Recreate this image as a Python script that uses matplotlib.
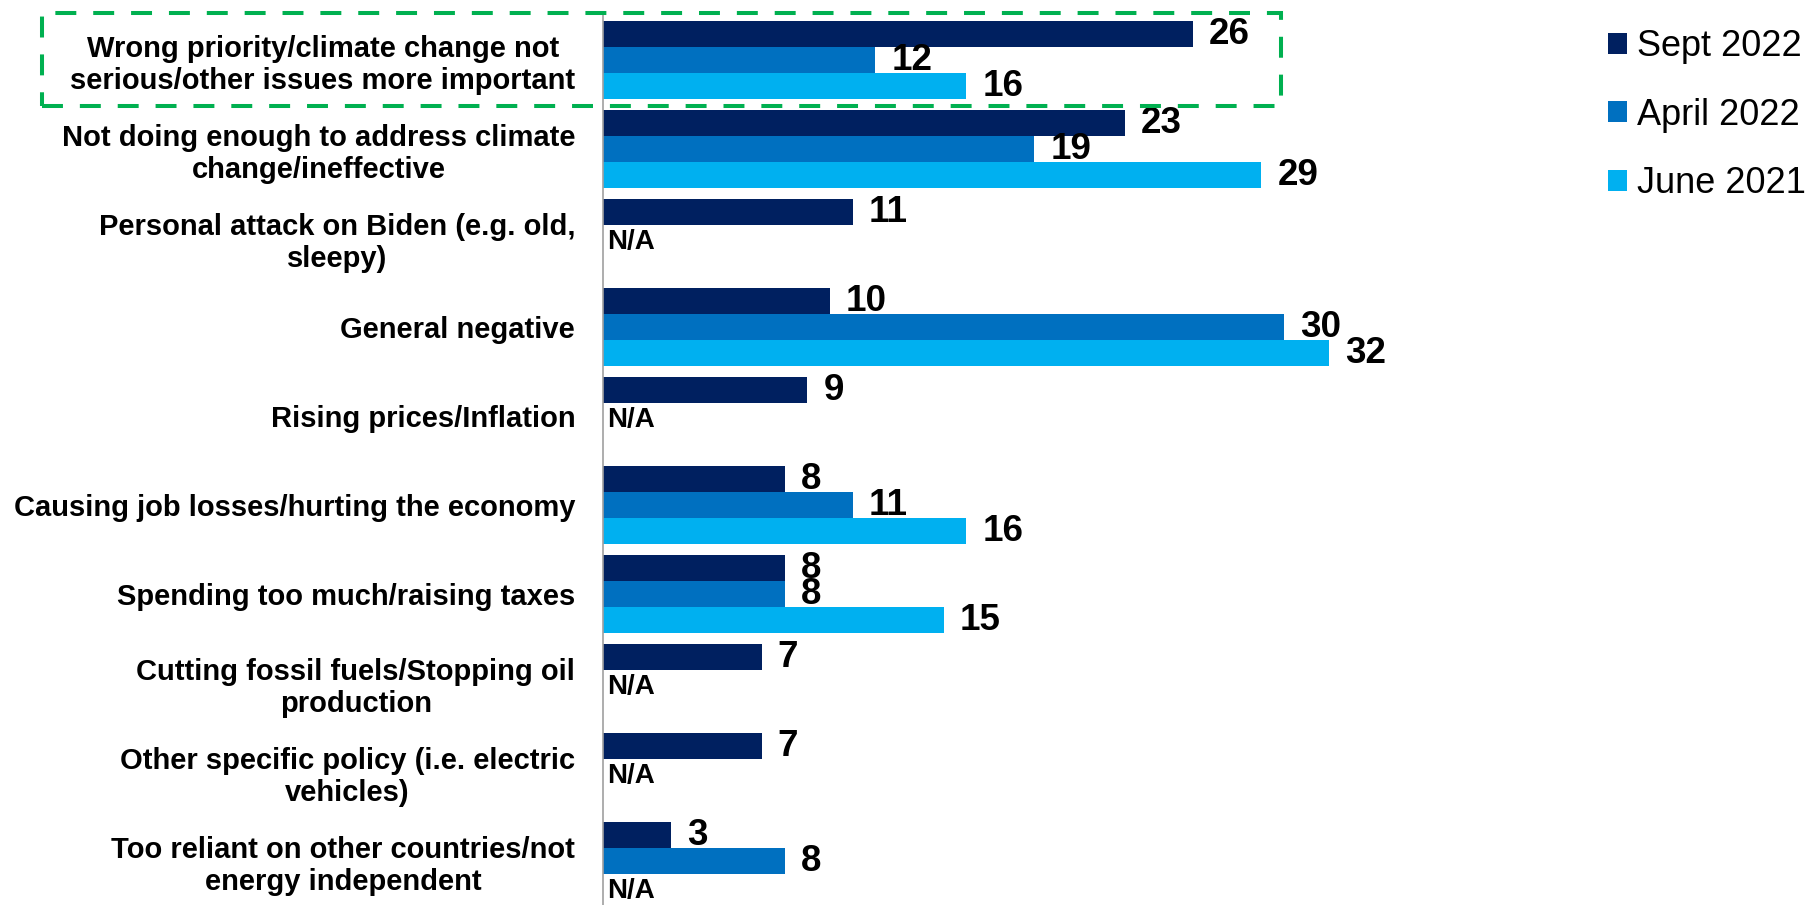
import matplotlib.pyplot as plt
from matplotlib.patches import Patch, Rectangle
import numpy as np

plt.rcParams['font.family'] = ['Liberation Sans', 'DejaVu Sans']

# categories, top to bottom
categories = [
    'Wrong priority/climate change not\nserious/other issues more important',
    'Not doing enough to address climate\nchange/ineffective',
    'Personal attack on Biden (e.g. old,\nsleepy)',
    'General negative',
    'Rising prices/Inflation',
    'Causing job losses/hurting the economy',
    'Spending too much/raising taxes',
    'Cutting fossil fuels/Stopping oil\nproduction',
    'Other specific policy (i.e. electric\nvehicles)',
    'Too reliant on other countries/not\nenergy independent',
]

series_names = ['Sept 2022', 'April 2022', 'June 2021']
sept_2022 = [26, 23, 11, 10, 9, 8, 8, 7, 7, 3]
april_2022 = [12, 19, 'N/A', 30, 'N/A', 11, 8, 'N/A', 'N/A', 8]
june_2021 = [16, 29, None, 32, None, 16, 15, None, None, 'N/A']
colors = ['#002060', '#0070C0', '#00B0F0']

W, H = 1810, 905
fig = plt.figure(figsize=(W / 100, H / 100), dpi=100)
ax = fig.add_axes([603 / W, 0, (1500 - 603) / W, 890 / H])

y = np.arange(len(categories))
h = 26 / 89
for k, (vals, col) in enumerate(zip([sept_2022, april_2022, june_2021], colors)):
    pos = y + (k - 1) * h
    for yi, v in zip(pos, vals):
        if v is None:
            continue
        if v == 'N/A':
            ax.annotate('N/A', (0, yi), xytext=(3, -3), textcoords='offset points',
                        ha='left', va='center', fontsize=20, fontweight='bold')
            continue
        ax.barh(yi, v, height=h, color=col)
        ax.annotate(str(v), (v, yi), xytext=(11.5, 0), textcoords='offset points',
                    ha='left', va='center', fontsize=26.5, fontweight='bold')

ax.set_xlim(0, (1500 - 603) / 22.7)
ax.set_ylim(9.494, -0.506)
ax.set_yticks(y)
ax.set_yticklabels(categories, fontsize=21, fontweight='bold', multialignment='center')
ax.tick_params(axis='y', length=0, pad=20)
ax.set_xticks([])
for s in ['top', 'right', 'bottom']:
    ax.spines[s].set_visible(False)
ax.spines['left'].set_color('#A0A0A0')
ax.spines['left'].set_linewidth(1.2)

# highlight box around the first category
box = Rectangle((42 / W, 1 - 106 / H), (1281 - 42) / W, (106 - 13) / H,
                transform=fig.transFigure, fill=False, edgecolor='#00B050',
                linewidth=2.9, linestyle=(0, (5.2, 4.2)), zorder=10)
fig.patches.append(box)

handles = [Patch(facecolor=c) for c in colors]
fig.legend(handles, series_names, loc='upper left', bbox_to_anchor=(1608 / W, 1 - 29 / H),
           frameon=False, fontsize=26, handlelength=0.53, handleheight=0.53,
           handletextpad=0.28, labelspacing=0.93, borderpad=0, borderaxespad=0)

fig.savefig('out.png', dpi=100)
